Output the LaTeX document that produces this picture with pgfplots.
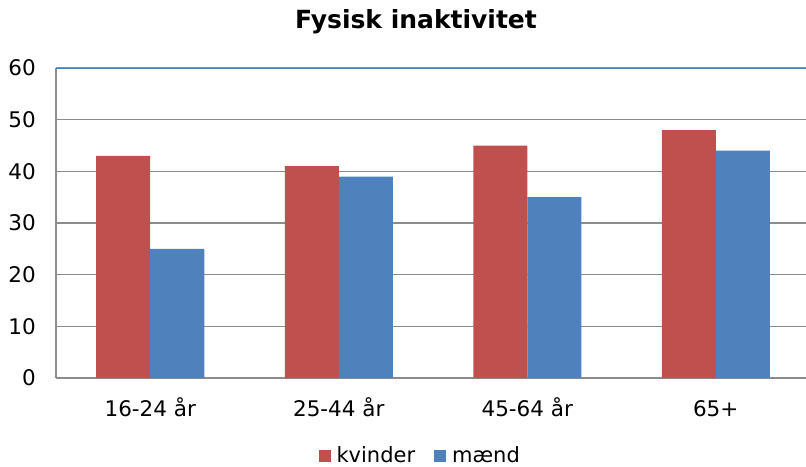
\documentclass[border=0pt]{standalone}
\usepackage{pgfplots}
\pgfplotsset{compat=1.18}
\usepackage{fontspec}
\setmainfont{DejaVu Sans}

\definecolor{kv}{HTML}{C0504D}
\definecolor{md}{HTML}{4F81BD}
\definecolor{gridgray}{HTML}{8C8C8C}

\begin{document}
\fontsize{21}{25}\selectfont
\begin{tikzpicture}
\useasboundingbox (-56pt,-88pt) rectangle (750pt,378pt);
\begin{axis}[
    at={(0,0)}, anchor=south west,
    scale only axis,
    width=754pt, height=310pt,
    xmin=-0.5, xmax=3.5,
    ymin=0, ymax=60,
    ybar=0pt, bar width=54pt,
    xtick={0,1,2,3},
    xticklabels={16-24 år, 25-44 år, 45-64 år, 65+},
    ytick={0,10,...,60},
    axis x line*=bottom, axis y line*=left,
    axis line style={gridgray, line width=1.5pt},
    ymajorgrids, grid style={gridgray, line width=1.2pt},
    major tick length=0pt,
    tick label style={font=\fontsize{21.5}{25}\selectfont},
    /pgf/number format/assume math mode=true,
    yticklabel style={xshift=-13pt},
    xticklabel style={yshift=-13pt, text height=18pt, text depth=5pt},
    legend columns=2,
    legend style={draw=none, at={(0.483,-0.252)}, anchor=center,
        font=\fontsize{21}{25}\selectfont,
        /tikz/every odd column/.append style={column sep=4pt},
        /tikz/every even column/.append style={column sep=17pt}},
    legend image code/.code={\fill[#1] (0pt,-6pt) rectangle (12pt,6pt);},
]
\addplot[fill=kv, draw=none] coordinates {(0,43) (1,41) (2,45) (3,48)};
\addplot[fill=md, draw=none] coordinates {(0,25) (1,39) (2,35) (3,44)};
\legend{kvinder, mænd}
\draw[md, line width=1.5pt] (axis cs:-0.5,60) -- (axis cs:3.5,60);
\end{axis}
\node[font=\bfseries\fontsize{25}{30}\selectfont] at (360pt,356pt) {Fysisk inaktivitet};
\end{tikzpicture}
\end{document}
